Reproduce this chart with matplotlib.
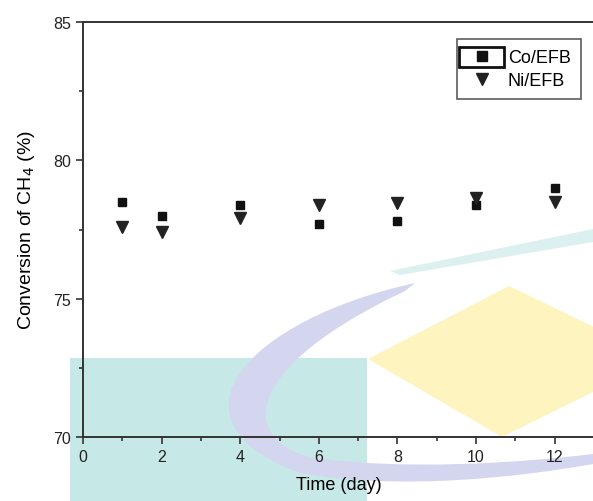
import numpy as np
import matplotlib
matplotlib.use("Agg")
import matplotlib.pyplot as plt
from matplotlib.patches import Rectangle, Polygon, PathPatch
from matplotlib.path import Path

plt.rcParams['font.family'] = ['Liberation Sans', 'DejaVu Sans']

days = [1, 2, 4, 6, 8, 10, 12]
co_efb = [78.5, 78.0, 78.4, 77.7, 77.8, 78.4, 79.0]
ni_efb = [77.6, 77.4, 77.9, 78.4, 78.45, 78.65, 78.5]

W, H = 593, 502
fig = plt.figure(figsize=(W / 100, H / 100), dpi=100)
ax = fig.add_axes([83 / W, (H - 438) / H, (594 - 83) / W, (438 - 23) / H])
ax.set_facecolor('none')


# faded logo watermark behind the plot (pixel coords, y from top)
def px(x, y):
    return (x / W, (H - y) / H)


fig.patches.append(Rectangle(px(70, 502), 297 / W, 143 / H, transform=fig.transFigure,
                             color='#c6e9e8', zorder=-5, lw=0))
fig.patches.append(Polygon([px(368, 360), px(509, 287), px(660, 360), px(502, 438)],
                           closed=True, transform=fig.transFigure,
                           color='#fdf4c0', zorder=-5, lw=0))
crescent = Path([px(415, 284), px(250, 320), px(155, 420), px(300, 474),
                 px(400, 492), px(520, 478), px(593, 465),
                 px(593, 455), px(520, 464), px(400, 472), px(310, 458),
                 px(240, 440), px(240, 370), px(405, 292), px(415, 284)],
                [Path.MOVETO, Path.CURVE4, Path.CURVE4, Path.CURVE4,
                 Path.CURVE4, Path.CURVE4, Path.CURVE4,
                 Path.LINETO, Path.CURVE4, Path.CURVE4, Path.CURVE4,
                 Path.CURVE4, Path.CURVE4, Path.CURVE4, Path.CLOSEPOLY])
fig.patches.append(PathPatch(crescent, transform=fig.transFigure,
                             color='#d3d6ee', zorder=-4, lw=0))
fig.patches.append(Polygon([px(390, 272), px(593, 230), px(593, 243), px(400, 276)],
                           closed=True, transform=fig.transFigure,
                           color='#dcf0ef', zorder=-5, lw=0))

ax.plot(days, co_efb, 's', color='#111111', ms=6, label='Co/EFB', zorder=3)
ax.plot(days, ni_efb, 'v', color='#222222', ms=8, label='Ni/EFB', zorder=3)

ax.set_xlim(0, 13)
ax.set_ylim(70, 85)
ax.set_xticks([0, 2, 4, 6, 8, 10, 12])
ax.set_xticks(np.arange(1, 13, 2), minor=True)
ax.set_yticks([70, 75, 80, 85])
ax.set_yticks([72.5, 77.5, 82.5], minor=True)

for s in ['left', 'bottom', 'top']:
    ax.spines[s].set_color('#333333')
    ax.spines[s].set_linewidth(1.4)
ax.spines['right'].set_visible(False)
ax.tick_params(which='major', direction='out', length=5, width=1.2, color='#333333',
               labelsize=11.5, pad=3.5, labelcolor='#222222')
ax.tick_params(which='minor', direction='out', length=3, width=1.2, color='#333333')

ax.set_xlabel('Time (day)', fontsize=13, labelpad=9)
ax.set_ylabel('Conversion of CH$_4$ (%)', fontsize=14, labelpad=12)

leg = ax.legend(loc='upper left', bbox_to_anchor=px(457, 40), bbox_transform=fig.transFigure,
                frameon=True, fancybox=False, edgecolor='#333333', fontsize=13,
                handletextpad=0.57, borderpad=0.55, labelspacing=0.35, handlelength=1.7,
                borderaxespad=0, markerscale=1.15)
leg.get_frame().set_linewidth(1.2)
fig.patches.append(Rectangle(px(459, 68), 45 / W, 20 / H, transform=fig.transFigure,
                             fill=False, ec='#111111', lw=2, zorder=10))

fig.savefig('out.png', dpi=100)
